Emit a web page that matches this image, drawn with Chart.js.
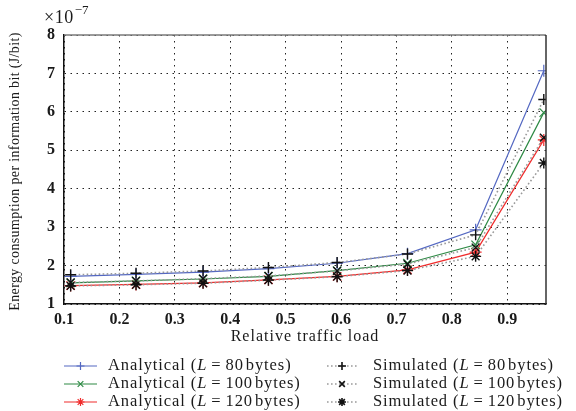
<!DOCTYPE html>
<html>
<head>
<meta charset="utf-8">
<script src="https://cdn.jsdelivr.net/npm/chart.js@4/dist/chart.umd.min.js"></script>
<style>
  html, body { margin: 0; padding: 0; background: #fff; }
  #wrap { width: 576px; height: 411px; position: relative; }
</style>
</head>
<body>
<div id="wrap"><canvas id="chart"></canvas></div>
<script>
// relative traffic load (x) and energy per bit, in units of 1e-7 J/bit
const loads = [0.112, 0.23, 0.351, 0.469, 0.593, 0.72, 0.843, 0.966];
const analytical80  = [1.72, 1.77, 1.83, 1.92, 2.06, 2.31, 2.93, 7.07];
const analytical100 = [1.55, 1.60, 1.65, 1.72, 1.87, 2.06, 2.54, 5.98];
const analytical120 = [1.48, 1.51, 1.55, 1.63, 1.72, 1.89, 2.35, 5.27];
const simulated80   = [1.76, 1.80, 1.86, 1.95, 2.08, 2.30, 2.80, 6.32];
const simulated100  = [1.56, 1.60, 1.66, 1.73, 1.86, 2.04, 2.47, 5.33];
const simulated120  = [1.47, 1.50, 1.54, 1.62, 1.71, 1.87, 2.24, 4.67];
const packetSizes = [80, 100, 120];
const yTicks = [1, 2, 3, 4, 5, 6, 7, 8];

const SERIF = '"Liberation Serif", "DejaVu Serif", serif';
const pts = (ys) => ys.map((y, i) => ({ x: loads[i], y: y }));

function analytical(vals, L, color, marker) {
  return {
    label: `Analytical (L = ${L} bytes)`,
    data: pts(vals),
    borderColor: color,
    backgroundColor: color,
    borderWidth: 1.2,
    pointStyle: marker,
    pointRadius: 6,
    pointBorderWidth: 1.2,
    pointBorderColor: color,
    tension: 0,
    order: 1
  };
}

function simulated(vals, L, marker) {
  return {
    label: `Simulated (L = ${L} bytes)`,
    data: pts(vals),
    borderColor: '#9a9a9a',
    backgroundColor: '#000',
    borderWidth: 1.6,
    borderDash: [1.6, 2.4],
    pointStyle: marker,
    pointRadius: 5.5,
    pointBorderWidth: 1.4,
    pointBorderColor: '#111',
    tension: 0,
    order: 0
  };
}

const datasets = [
  analytical(analytical80, packetSizes[0], '#5468c2', 'cross'),
  analytical(analytical100, packetSizes[1], '#2e8a45', 'crossRot'),
  analytical(analytical120, packetSizes[2], '#f02c2c', 'star'),
  simulated(simulated80, packetSizes[0], 'cross'),
  simulated(simulated100, packetSizes[1], 'crossRot'),
  simulated(simulated120, packetSizes[2], 'star')
];

// text drawn with a given letter spacing
function spaced(ctx, text, x, y, sp) {
  ctx.letterSpacing = sp + 'px';
  ctx.fillText(text, x, y);
  const w = ctx.measureText(text).width;
  ctx.letterSpacing = '0px';
  return w;
}

// frame, exponent label, axis titles and the two-column legend
const decorations = {
  id: 'decorations',
  afterDraw(chart) {
    const { ctx, chartArea: a } = chart;
    ctx.save();
    ctx.setLineDash([]);
    ctx.lineWidth = 1.5;
    ctx.strokeStyle = '#7a7a7a';
    ctx.beginPath();
    ctx.moveTo(a.left, a.top); ctx.lineTo(a.right, a.top);
    ctx.stroke();
    ctx.strokeStyle = '#333';
    ctx.beginPath();
    ctx.moveTo(a.right, a.top); ctx.lineTo(a.right, a.bottom);
    ctx.stroke();

    ctx.fillStyle = '#1a1a1a';
    // x10^-7
    ctx.font = '18px ' + SERIF;
    ctx.textBaseline = 'alphabetic';
    ctx.textAlign = 'left';
    const w = spaced(ctx, '\u00d710', 44, 23, 0.5);
    ctx.font = '13px ' + SERIF;
    ctx.fillText('\u22127', 44 + w + 1, 14);

    // x title
    ctx.font = '16px ' + SERIF;
    ctx.textAlign = 'left';
    ctx.textBaseline = 'middle';
    ctx.letterSpacing = '1px';
    const tw = ctx.measureText('Relative traffic load').width;
    ctx.fillText('Relative traffic load', (a.left + a.right) / 2 - tw / 2, 337);
    ctx.letterSpacing = '0px';

    // y title
    ctx.save();
    ctx.translate(15, (a.top + a.bottom) / 2 + 2);
    ctx.rotate(-Math.PI / 2);
    ctx.font = '14px ' + SERIF;
    ctx.letterSpacing = '0.35px';
    const yw = ctx.measureText('Energy consumption per information bit (J/bit)').width;
    ctx.fillText('Energy consumption per information bit (J/bit)', -yw / 2, 0);
    ctx.restore();

    // legend
    const rows = [366, 384, 402];
    const cols = [{ x0: 64, x1: 97, tx: 108 }, { x0: 327, x1: 357, tx: 373 }];
    chart.data.datasets.forEach((ds, i) => {
      const col = cols[i < 3 ? 0 : 1];
      const y = rows[i % 3];
      ctx.save();
      ctx.strokeStyle = ds.borderColor;
      ctx.lineWidth = ds.borderWidth;
      ctx.setLineDash(ds.borderDash || []);
      ctx.beginPath();
      ctx.moveTo(col.x0, y); ctx.lineTo(col.x1, y);
      ctx.stroke();
      ctx.setLineDash([]);
      ctx.strokeStyle = ds.pointBorderColor;
      ctx.fillStyle = ds.pointBorderColor;
      Chart.helpers.drawPoint(ctx, {
        pointStyle: ds.pointStyle,
        radius: 4,
        borderWidth: 1.2,
        rotation: 0
      }, (col.x0 + col.x1) / 2, y);
      ctx.restore();

      // text with italic L and wide spacing round "="
      const m = ds.label.match(/^(.*\()L = (\d+) (bytes\))$/);
      ctx.textAlign = 'left';
      ctx.textBaseline = 'middle';
      ctx.fillStyle = '#1a1a1a';
      let x = col.tx;
      ctx.font = '16.5px ' + SERIF;
      x += spaced(ctx, m[1], x, y, 0.9);
      ctx.font = 'italic 16.5px ' + SERIF;
      x += spaced(ctx, 'L', x, y, 0.9) + 4;
      ctx.font = '16.5px ' + SERIF;
      x += spaced(ctx, '=', x, y, 0) + 5;
      x += spaced(ctx, m[2], x, y, 0.9) + 2;
      spaced(ctx, m[3], x, y, 0.9);
    });
    ctx.restore();
  }
};

new Chart(document.getElementById('chart'), {
  type: 'line',
  data: { datasets: datasets },
  options: {
    responsive: true,
    maintainAspectRatio: false,
    animation: false,
    layout: { padding: { left: 0, top: 35, right: 30, bottom: 0 } },
    scales: {
      x: {
        type: 'linear',
        min: 0.1,
        max: 0.97,
        afterFit(scale) { scale.height = 107; },
        ticks: {
          stepSize: 0.1,
          includeBounds: false,
          padding: 6,
          color: '#1a1a1a',
          font: { family: SERIF, size: 16, weight: 'bold' },
          callback: (v) => v.toFixed(1)
        },
        grid: { color: '#222', lineWidth: 1, drawTicks: false },
        border: { display: true, color: '#111', width: 1.5, dash: [1.5, 4.5] }
      },
      y: {
        min: 1,
        max: 8,
        afterFit(scale) { scale.width = 64; },
        afterBuildTicks(scale) { scale.ticks = yTicks.map(v => ({ value: v })); },
        ticks: {
          padding: 9,
          color: '#1a1a1a',
          font: { family: SERIF, size: 16, weight: 'bold' }
        },
        grid: { color: '#222', lineWidth: 1, drawTicks: false },
        border: { display: true, color: '#111', width: 1.5, dash: [1.5, 4.5] }
      }
    },
    plugins: {
      legend: { display: false },
      tooltip: { enabled: false }
    }
  },
  plugins: [decorations]
});
</script>
</body>
</html>
